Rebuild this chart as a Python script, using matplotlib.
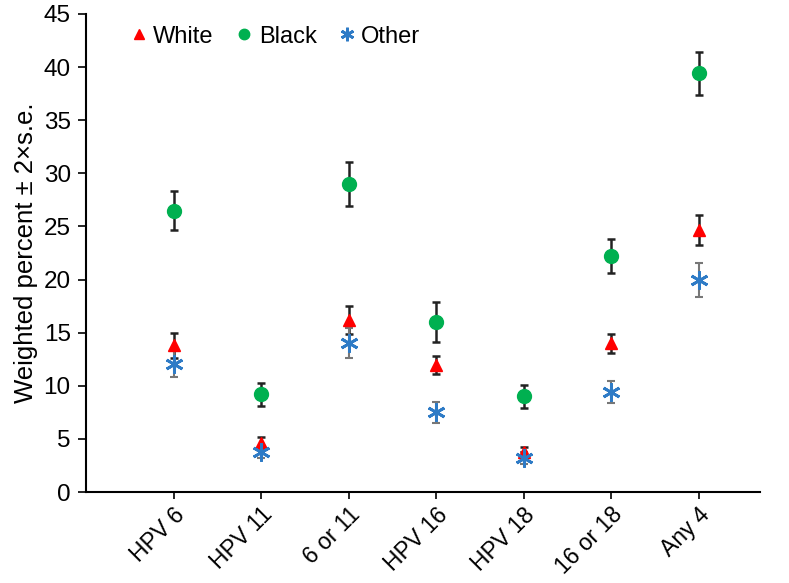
import numpy as np
import matplotlib.pyplot as plt

plt.rcParams['font.family'] = ['Liberation Sans', 'DejaVu Sans']

categories = ['HPV 6', 'HPV 11', '6 or 11', 'HPV 16', 'HPV 18', '16 or 18', 'Any 4']
white = [13.8, 4.6, 16.2, 12.0, 3.8, 14.0, 24.7]
white_err = [1.2, 0.55, 1.3, 0.85, 0.4, 0.9, 1.4]
black = [26.5, 9.2, 29.0, 16.0, 9.0, 22.2, 39.4]
black_err = [1.8, 1.1, 2.1, 1.9, 1.05, 1.6, 2.05]
other = [12.1, 3.8, 14.0, 7.5, 3.2, 9.45, 20.0]
other_err = [1.3, 0.55, 1.4, 1.0, 0.6, 1.05, 1.6]

x = np.arange(1, len(categories) + 1)

fig = plt.figure(figsize=(7.89, 5.83), dpi=100)
ax = fig.add_axes([0.109, 0.156, 0.854, 0.82])

ax.errorbar(x, black, yerr=black_err, fmt='none', ecolor='#222222', elinewidth=1.8, capsize=3, capthick=1.8, zorder=2)
ax.errorbar(x, white, yerr=white_err, fmt='none', ecolor='#222222', elinewidth=1.8, capsize=3, capthick=1.8, zorder=2)
ax.errorbar(x, other, yerr=other_err, fmt='none', ecolor='#777777', elinewidth=1.5, capsize=3, capthick=1.5, zorder=2)

ax.plot(x, white, linestyle='none', marker='^', color='#ff0000', markersize=9, label='White', zorder=3)
ax.plot(x, black, linestyle='none', marker='o', color='#00b050', markersize=10, label='Black', zorder=3)
ax.plot(x, other, linestyle='none', marker=(6, 2, 0), markeredgecolor='#2e7bc6', markeredgewidth=2,
        markersize=13, label='Other', zorder=3)

ax.set_xlim(0, 7.7)
ax.set_ylim(0, 45)
ax.set_yticks(np.arange(0, 46, 5))
ax.set_xticks(x)
ax.set_xticklabels(categories, rotation=45, ha='right', rotation_mode='anchor', fontsize=16.5)
ax.tick_params(axis='y', labelsize=17.5, length=6, width=1.2, pad=5)
ax.tick_params(axis='x', length=5, width=1.2, pad=3)
ax.set_ylabel('Weighted percent \u00b1 2\u00d7s.e.', fontsize=18.5, labelpad=4)

ax.spines['top'].set_visible(False)
ax.spines['right'].set_visible(False)
ax.spines['left'].set_linewidth(1.5)
ax.spines['bottom'].set_linewidth(1.5)

leg = ax.legend(loc='upper left', ncol=3, frameon=False, fontsize=17, handletextpad=0.25,
                columnspacing=0.95, markerscale=0.75, bbox_to_anchor=(0.035, 1.02), handlelength=0.7)

fig.savefig('out.png', dpi=100)
